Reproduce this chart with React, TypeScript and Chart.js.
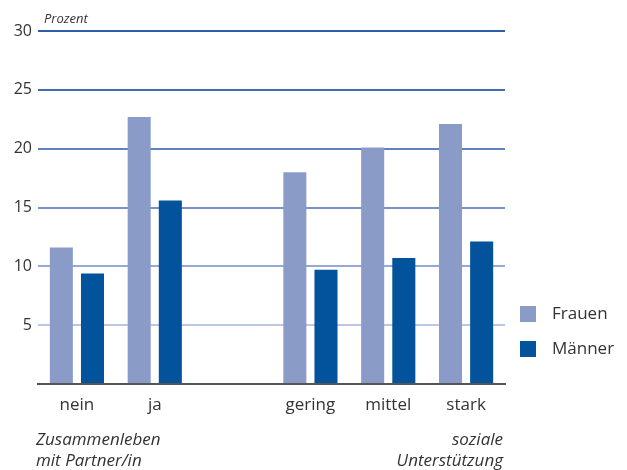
import React, { useEffect, useRef } from "react";
import { Chart, registerables } from "chart.js";

Chart.register(...registerables);

const categories = ["nein", "ja", "", "gering", "mittel", "stark"];
const frauen = [11.6, 22.7, null, 18.0, 20.1, 22.1];
const maenner = [9.4, 15.6, null, 9.7, 10.7, 12.1];
const seriesNames = ["Frauen", "Männer"];
const seriesColors = ["#8a9bc8", "#03529c"];
const yTicks = [0, 5, 10, 15, 20, 25, 30];
const gridColors: Record<number, string> = {
  0: "rgba(0,0,0,0)",
  5: "#bcc7e4",
  10: "#95a9d6",
  15: "#7892cc",
  20: "#5f82c2",
  25: "#3f6db3",
  30: "#2f5ea8",
};

const FONT = "'Open Sans', 'DejaVu Sans', sans-serif";

const overlayPlugin = {
  id: "overlay",
  afterDraw(chart: any) {
    const ctx = chart.ctx;
    const area = chart.chartArea;
    ctx.save();
    ctx.fillStyle = "#333";
    ctx.font = `italic 13px ${FONT}`;
    ctx.textAlign = "left";
    ctx.textBaseline = "middle";
    ctx.fillText("Prozent", 44, 19);
    ctx.font = `17px ${FONT}`;
    seriesNames.forEach((name, i) => {
      const y = 314 + i * 35;
      ctx.fillStyle = seriesColors[i];
      ctx.fillRect(520, y - 8, 16, 16);
      ctx.fillStyle = "#333";
      ctx.fillText(name, 552, y);
    });
    ctx.font = `italic 17px ${FONT}`;
    ctx.fillStyle = "#333";
    ctx.textAlign = "left";
    ctx.fillText("Zusammenleben", 36, 440);
    ctx.fillText("mit Partner/in", 36, 461);
    ctx.textAlign = "right";
    ctx.fillText("soziale", area.right - 2, 440);
    ctx.fillText("Unterstützung", area.right - 2, 461);
    ctx.restore();
  },
};

export default function App() {
  const ref = useRef<HTMLCanvasElement>(null);
  useEffect(() => {
    document.body.style.margin = "0";
    const chart = new Chart(ref.current!, {
      type: "bar",
      data: {
        labels: categories,
        datasets: [
          {
            label: seriesNames[0],
            data: frauen,
            backgroundColor: seriesColors[0],
            categoryPercentage: 0.8,
            barPercentage: 0.74,
          },
          {
            label: seriesNames[1],
            data: maenner,
            backgroundColor: seriesColors[1],
            categoryPercentage: 0.8,
            barPercentage: 0.74,
          },
        ],
      },
      options: {
        responsive: false,
        animation: false,
        layout: { padding: { top: 31, right: 122, bottom: 0, left: 2 } },
        plugins: {
          legend: { display: false },
          tooltip: { enabled: false },
        },
        scales: {
          x: {
            grid: { display: false, drawTicks: false },
            border: { display: true, color: "#555", width: 2 },
            ticks: {
              color: "#333",
              font: { family: FONT, size: 17 },
              padding: 11,
            },
            afterFit(scale: any) {
              scale.height = 86;
            },
          },
          y: {
            min: 0,
            max: 30,
            afterBuildTicks(scale: any) {
              scale.ticks = yTicks.map((v) => ({ value: v }));
            },
            grid: {
              drawTicks: false,
              lineWidth: 2,
              color: (c: any) => gridColors[c.tick?.value] ?? "#8ea4d3",
            },
            border: { display: false },
            ticks: {
              color: "#333",
              font: { family: FONT, size: 16 },
              padding: 6,
              callback: (v: any) => (v === 0 ? "" : String(v)),
            },
            afterFit(scale: any) {
              scale.width = 36;
            },
          },
        },
      },
      plugins: [overlayPlugin],
    });
    return () => chart.destroy();
  }, []);
  return (
    <div style={{ position: "absolute", left: 0, top: 0, width: 627, height: 470 }}>
      <canvas ref={ref} width={627} height={470} />
    </div>
  );
}
